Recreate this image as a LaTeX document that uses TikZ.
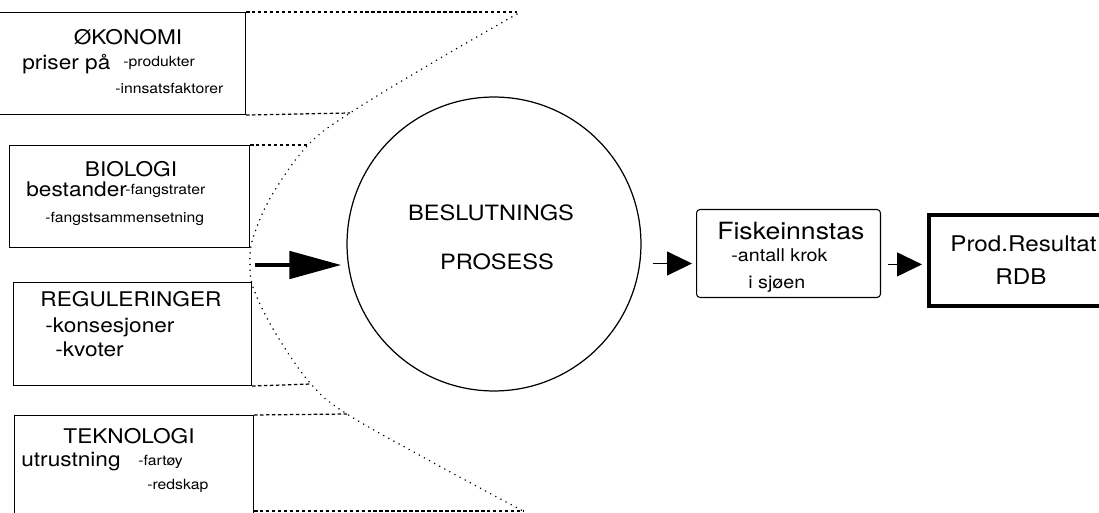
\documentclass[tikz,border=0pt]{standalone}
\usepackage{fontspec}
\setmainfont{TeX Gyre Heros}[FakeStretch=1.12]
\usetikzlibrary{arrows.meta}
\newcommand\labfont{\fontsize{11.5}{13}\selectfont}
\newcommand\subfont{\fontsize{8}{9}\selectfont}
\tikzset{
	infobox/.style={draw,line width=0.6pt,anchor=north west,inner sep=0pt},
	lab/.style={inner sep=0pt,anchor=base west,font=\labfont},
	sublab/.style={inner sep=0pt,anchor=base west,font=\subfont},
	dashline/.style={line width=0.7pt,dash pattern=on 2pt off 1.4pt},
	rim/.style={line width=0.9pt,dash pattern=on 0.1pt off 3.2pt,line cap=round},
	bigarrow/.style={line width=2.8pt,-{Triangle[length=1.04cm,width=0.54cm]}},
	smallarrow/.style={line width=0.6pt,-{Triangle[length=0.5cm,width=0.48cm]}}
}
\begin{document}
\begin{tikzpicture}[x=0.02cm,y=-0.02cm]
	\clip (0,0) rectangle (1099,513);
	% boxes on the left
	\node[infobox,minimum width=4.96cm,minimum height=2.04cm] (oko) at (-3,12) {};
	\node[infobox,minimum width=4.8cm,minimum height=2.04cm] (bio) at (9,145) {};
	\node[infobox,minimum width=4.76cm,minimum height=2.06cm] (reg) at (13,282) {};
	\node[infobox,minimum width=4.78cm,minimum height=2.2cm] (tek) at (14,415) {};
	% process and results
	\node[draw,circle,line width=0.7pt,minimum size=5.88cm,inner sep=0pt] (bp) at (494,244) {};
	\node[infobox,rounded corners=2pt,minimum width=3.68cm,minimum height=1.76cm] (fisk) at (696,209) {};
	\node[infobox,line width=2.2pt,minimum width=3.8cm,minimum height=1.82cm] (prod) at (927,213) {};
	% texts
	\node[lab,anchor=base] (okot) at (128,45) {ØKONOMI};
	\node[lab] (okop) at (22,70) {priser på};
	\node[sublab] (okoa) at (123,67) {-produkter};
	\node[sublab] (okob) at (115,94) {-innsatsfaktorer};
	\node[lab,anchor=base] (biot) at (131,177) {BIOLOGI};
	\node[lab] (biop) at (26,197) {bestander};
	\node[sublab] (bioa) at (125,195) {-fangstrater};
	\node[sublab] (biob) at (45,223) {-fangstsammensetning};
	\node[lab,anchor=base] (regt) at (131,307) {REGULERINGER};
	\node[lab] (rega) at (45,333) {-konsesjoner};
	\node[lab] (regb) at (55,357) {-kvoter};
	\node[lab,anchor=base] (tekt) at (129,443) {TEKNOLOGI};
	\node[lab] (tekp) at (21,466) {utrustning};
	\node[sublab] (teka) at (138,465) {-fartøy};
	\node[sublab] (tekb) at (147,489) {-redskap};
	\node[lab,anchor=base,font=\fontsize{12}{14}\selectfont] (bpa) at (491,221) {BESLUTNINGS};
	\node[lab,anchor=base,font=\fontsize{12}{14}\selectfont] (bpb) at (497,270) {PROSESS};
	\node[lab,font=\fontsize{13.5}{15}\selectfont] (fiskt) at (717,240) {Fiskeinnstas};
	\node[lab,font=\fontsize{10}{12}\selectfont] (fiska) at (731,262) {-antall krok};
	\node[lab,font=\fontsize{10}{12}\selectfont] (fiskb) at (748,289) {i sjøen};
	\node[lab,font=\fontsize{12.3}{14}\selectfont] (prodt) at (950,252) {Prod.Resultat};
	\node[lab,font=\fontsize{12.3}{14}\selectfont] (prodb) at (995,285) {RDB};
	% dotted rim and dashed lines
	\coordinate (ctop) at (517,14);
	\coordinate (c1) at (350,113);
	\coordinate (c2) at (308,145);
	\coordinate (vtx) at (250,265);
	\coordinate (c3) at (311,384);
	\coordinate (c4) at (347,414);
	\coordinate (cbot) at (523,511);
	\draw[rim] plot[smooth,tension=0.6] coordinates {(ctop) (432,63) (c1) (c2) (272,195) (253,238) (vtx) (254,290) (276,334) (c3) (c4) (432,462) (cbot)};
	\draw[dashline] (oko.north east) -- (oko.north east -| ctop);
	\draw[dashline] (oko.south east) -- (c1);
	\draw[dashline] (bio.north east) -- (c2);
	\draw[dashline] (reg.south east) -- (c3);
	\draw[dashline] (tek.north east) -- (c4);
	\draw[dashline] (cbot -| tek.east) -- (cbot);
	% arrows
	\draw[bigarrow,shorten <=0.1cm,shorten >=0.1cm] (vtx) -- (vtx -| bp.west);
	\coordinate (a1) at ([yshift=-0.2cm]fisk.west);
	\coordinate (a2) at ([yshift=-0.08cm]prod.west);
	\draw[smallarrow,shorten <=0.22cm,shorten >=0.08cm] (a1 -| bp.east) -- (a1);
	\draw[smallarrow,shorten <=0.14cm,shorten >=0.1cm] (a2 -| fisk.east) -- (a2);
\end{tikzpicture}
\end{document}
